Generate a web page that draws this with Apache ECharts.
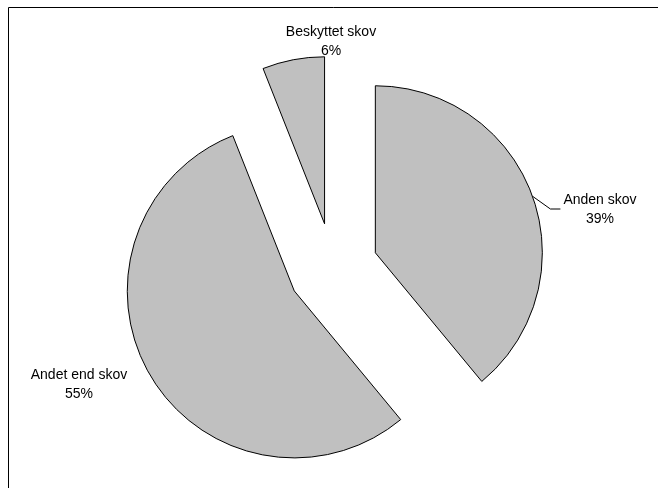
<!DOCTYPE html>
<html>
<head>
<meta charset="utf-8">
<script src="https://cdn.jsdelivr.net/npm/echarts@6/dist/echarts.min.js"></script>
<style>
  html, body { margin: 0; padding: 0; background: #fff; }
  #chart { width: 658px; height: 488px; }
</style>
</head>
<body>
<div id="chart"></div>
<script>
// Forest land shares (percent)
const categories = ['Anden skov', 'Andet end skov', 'Beskyttet skov'];
const shares = [39, 55, 6];

// Label block centres, and which labels get a leader line
const labelSpots = [
  { x: 600, y: 210, leader: true },
  { x: 79, y: 385, leader: false },
  { x: 331, y: 42, leader: false }
];

const LABEL_FONT = '14px "Liberation Sans", Arial, sans-serif';
const EXPLODE = 45;

const chart = echarts.init(document.getElementById('chart'), null, { renderer: 'canvas' });

chart.setOption({
  animation: false,
  backgroundColor: '#ffffff',
  series: [{
    type: 'pie',
    center: [333, 268],
    radius: [0, 167],
    startAngle: 90,
    clockwise: true,
    selectedMode: 'multiple',
    selectedOffset: EXPLODE,
    emphasis: { disabled: true },
    itemStyle: { color: '#c0c0c0', borderColor: '#000', borderWidth: 1 },
    label: { show: false },
    labelLine: { show: false },
    data: categories.map(function (name, i) {
      return { name: name, value: shares[i], selected: true };
    })
  }]
});

// Text width helper for placing the leader line end
const measureCtx = document.createElement('canvas').getContext('2d');
measureCtx.font = LABEL_FONT;
function textWidth(s) { return measureCtx.measureText(s).width; }

// Labels and leader line, placed from the pie's own slice layout
const pieData = chart.getModel().getSeriesByIndex(0).getData();
const graphics = [{
  type: 'rect',
  silent: true,
  shape: { x: 8.5, y: 7.5, width: 700, height: 600 },
  style: { fill: 'none', stroke: '#000', lineWidth: 1 }
}];

categories.forEach(function (name, i) {
  const spot = labelSpots[i];
  const line1 = name;
  const line2 = shares[i] + '%';
  graphics.push({
    type: 'text',
    silent: true,
    style: {
      x: spot.x,
      y: spot.y,
      text: line1 + '\n' + line2,
      font: LABEL_FONT,
      lineHeight: 19,
      fill: '#000',
      align: 'center',
      verticalAlign: 'middle'
    }
  });
  if (spot.leader) {
    const lay = pieData.getItemLayout(i);
    const mid = (lay.startAngle + lay.endAngle) / 2;
    const vx = lay.cx + EXPLODE * Math.cos(mid);
    const vy = lay.cy + EXPLODE * Math.sin(mid);
    const arcX = vx + lay.r * Math.cos(mid);
    const arcY = vy + lay.r * Math.sin(mid);
    const left = spot.x - Math.max(textWidth(line1), textWidth(line2)) / 2 - 3;
    graphics.push({
      type: 'polyline',
      silent: true,
      shape: { points: [[arcX, arcY], [left - 10, spot.y - 1], [left, spot.y - 1]] },
      style: { stroke: '#000', lineWidth: 1, fill: 'none' }
    });
  }
});

chart.setOption({ graphic: graphics });
</script>
</body>
</html>
